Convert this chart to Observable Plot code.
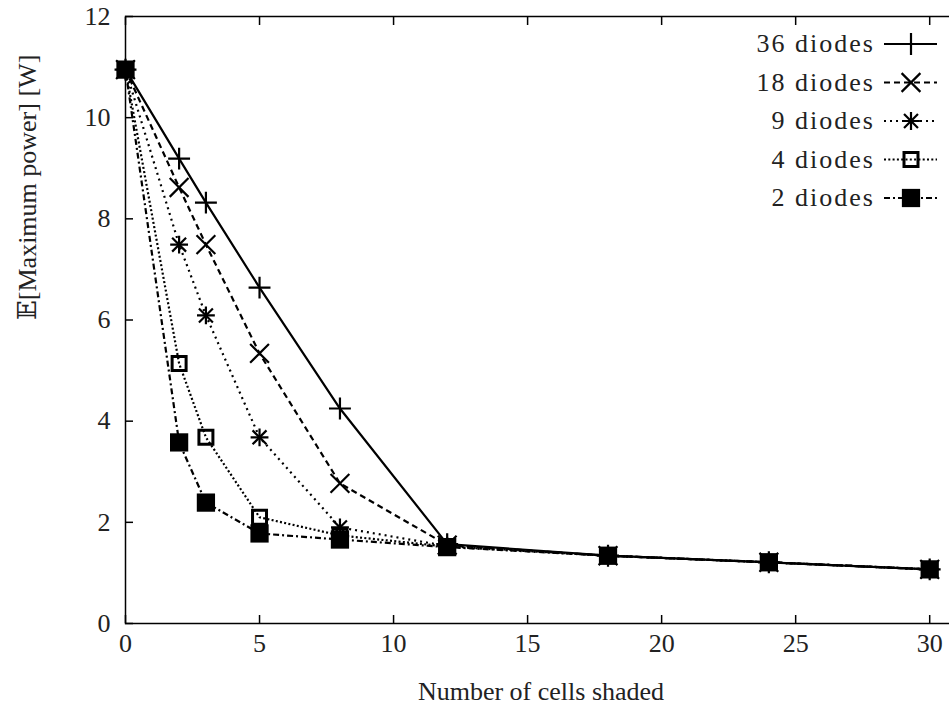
<!DOCTYPE html>
<html><head><meta charset="utf-8">
<script src="https://cdn.jsdelivr.net/npm/d3@7"></script>
<script src="https://cdn.jsdelivr.net/npm/@observablehq/plot@0.6"></script>
<style>
html,body{margin:0;padding:0;background:#fff;overflow:hidden;}
#chart svg{overflow:hidden;display:block;}
#chart svg text{font-family:"Liberation Serif","Times New Roman",Times,"DejaVu Serif","Noto Serif",serif !important;}
</style>
</head><body><div id="chart"></div>
<script>
// ---- data ----
const cellsShaded = [0, 2, 3, 5, 8, 12, 18, 24, 30];
const series = ["36 diodes", "18 diodes", "9 diodes", "4 diodes", "2 diodes"];
const power36 = [10.95, 9.19, 8.32, 6.64, 4.25, 1.57, 1.34, 1.21, 1.07];
const power18 = [10.95, 8.62, 7.49, 5.34, 2.77, 1.55, 1.34, 1.21, 1.07];
const power9  = [10.95, 7.49, 6.09, 3.68, 1.90, 1.53, 1.34, 1.21, 1.07];
const power4  = [10.95, 5.14, 3.68, 2.10, 1.74, 1.52, 1.34, 1.21, 1.07];
const power2  = [10.95, 3.58, 2.39, 1.78, 1.66, 1.51, 1.34, 1.21, 1.07];
const xTicks = [0, 5, 10, 15, 20, 25, 30];
const yTicks = [0, 2, 4, 6, 8, 10, 12];
const xTitle = "Number of cells shaded";
const yTitle = "𝔼[Maximum power] [W]";

const powerBySeries = {"36 diodes": power36, "18 diodes": power18, "9 diodes": power9, "4 diodes": power4, "2 diodes": power2};
const rows = series.flatMap(s => cellsShaded.map((c, i) => ({series: s, cells: c, power: powerBySeries[s][i]})));

// ---- styles ----
const FONT = "'Liberation Serif', 'Times New Roman', Times, 'DejaVu Serif', serif";
const LW = 2.2;
const styles = {
  "36 diodes": {dash: null, symbols: [["plus", 7.1, LW, "none"]]},
  "18 diodes": {dash: "6,4", symbols: [["times", 8.6, LW, "none"]]},
  "9 diodes":  {dash: "2,4", symbols: [["plus", 5.8, LW, "none"], ["times", 6.4, LW, "none"]]},
  "4 diodes":  {dash: "2,2.3", symbols: [["square2", 8.9, 3, "none"]]},
  "2 diodes":  {dash: "6,3,2,3", symbols: [["square", 10.3, 0, "black"]]}
};

const seriesMarks = series.flatMap(name => {
  const data = rows.filter(d => d.series === name);
  const st = styles[name];
  const m = [Plot.line(data, {x: "cells", y: "power", stroke: "black", strokeWidth: LW,
    strokeDasharray: st.dash, strokeLinecap: "butt", strokeLinejoin: "miter"})];
  st.symbols.forEach(([sym, r, sw, fill]) => {
    m.push(Plot.dot(data, {x: "cells", y: "power", symbol: sym, r,
      stroke: fill === "none" ? "black" : "none", strokeWidth: sw, fill: fill === "none" ? "none" : "black"}));
  });
  return m;
});

const plot = Plot.plot({
  width: 949, height: 713,
  marginTop: 16, marginBottom: 90, marginLeft: 125, marginRight: -7,
  x: {domain: [0, 31], axis: null},
  y: {domain: [0, 12], axis: null},
  style: {fontFamily: FONT, background: "white", color: "black", overflow: "hidden"},
  marks: [
    Plot.frame({stroke: "black", strokeWidth: 1.5}),
    Plot.axisX({ticks: xTicks, anchor: "bottom", tickSize: -8, tickFormat: () => "", strokeWidth: 1.5, label: null}),
    Plot.axisX({ticks: xTicks, anchor: "top", tickSize: -8, tickFormat: () => "", strokeWidth: 1.5, label: null}),
    Plot.axisY({ticks: yTicks, anchor: "left", tickSize: -8, tickFormat: () => "", strokeWidth: 1.5, label: null}),
    Plot.axisY({ticks: yTicks, anchor: "right", tickSize: -8, tickFormat: () => "", strokeWidth: 1.5, label: null}),
    Plot.axisX({ticks: xTicks, anchor: "bottom", tickSize: 0, tickPadding: 10, fontSize: 26, label: null, fill: "#222"}),
    Plot.axisY({ticks: yTicks, anchor: "left", tickSize: 0, tickPadding: 15, fontSize: 26, label: null, fill: "#222"}),
    Plot.text([xTitle], {frameAnchor: "bottom", dy: 76, fontSize: 26, fill: "#222", ariaLabel: "xtitle"}),
    Plot.text([yTitle], {frameAnchor: "left", rotate: -90, dx: -98, fontSize: 26, fill: "#222", ariaLabel: "ytitle"}),
    ...seriesMarks
  ]
});

const svg = d3.select(plot);
svg.selectAll('g[aria-label="xtitle"] text').attr("letter-spacing", 2);
svg.selectAll('g[aria-label="ytitle"] text').attr("letter-spacing", 1);

// ---- legend ----
const symMap = {plus: d3.symbolPlus, times: d3.symbolTimes, square2: d3.symbolSquare2, square: d3.symbolSquare};
const lg = svg.append("g").attr("font-family", FONT);
series.forEach((name, i) => {
  const y = 44 + 38.5 * i;
  const st = styles[name];
  lg.append("text").attr("x", 875).attr("y", y).attr("dy", "0.32em")
    .attr("text-anchor", "end").attr("font-size", 26).attr("letter-spacing", 2).attr("fill", "#222").text(name);
  lg.append("line").attr("x1", 884).attr("x2", 937).attr("y1", y).attr("y2", y)
    .attr("stroke", "black").attr("stroke-width", LW).attr("stroke-dasharray", st.dash);
  st.symbols.forEach(([sym, r, sw, fill]) => {
    lg.append("path").attr("transform", `translate(911,${y})`)
      .attr("d", d3.symbol(symMap[sym], Math.PI * r * r)())
      .attr("fill", fill === "none" ? "none" : "black")
      .attr("stroke", fill === "none" ? "black" : "none").attr("stroke-width", sw);
  });
});

document.getElementById("chart").appendChild(plot);
</script>
</body></html>
